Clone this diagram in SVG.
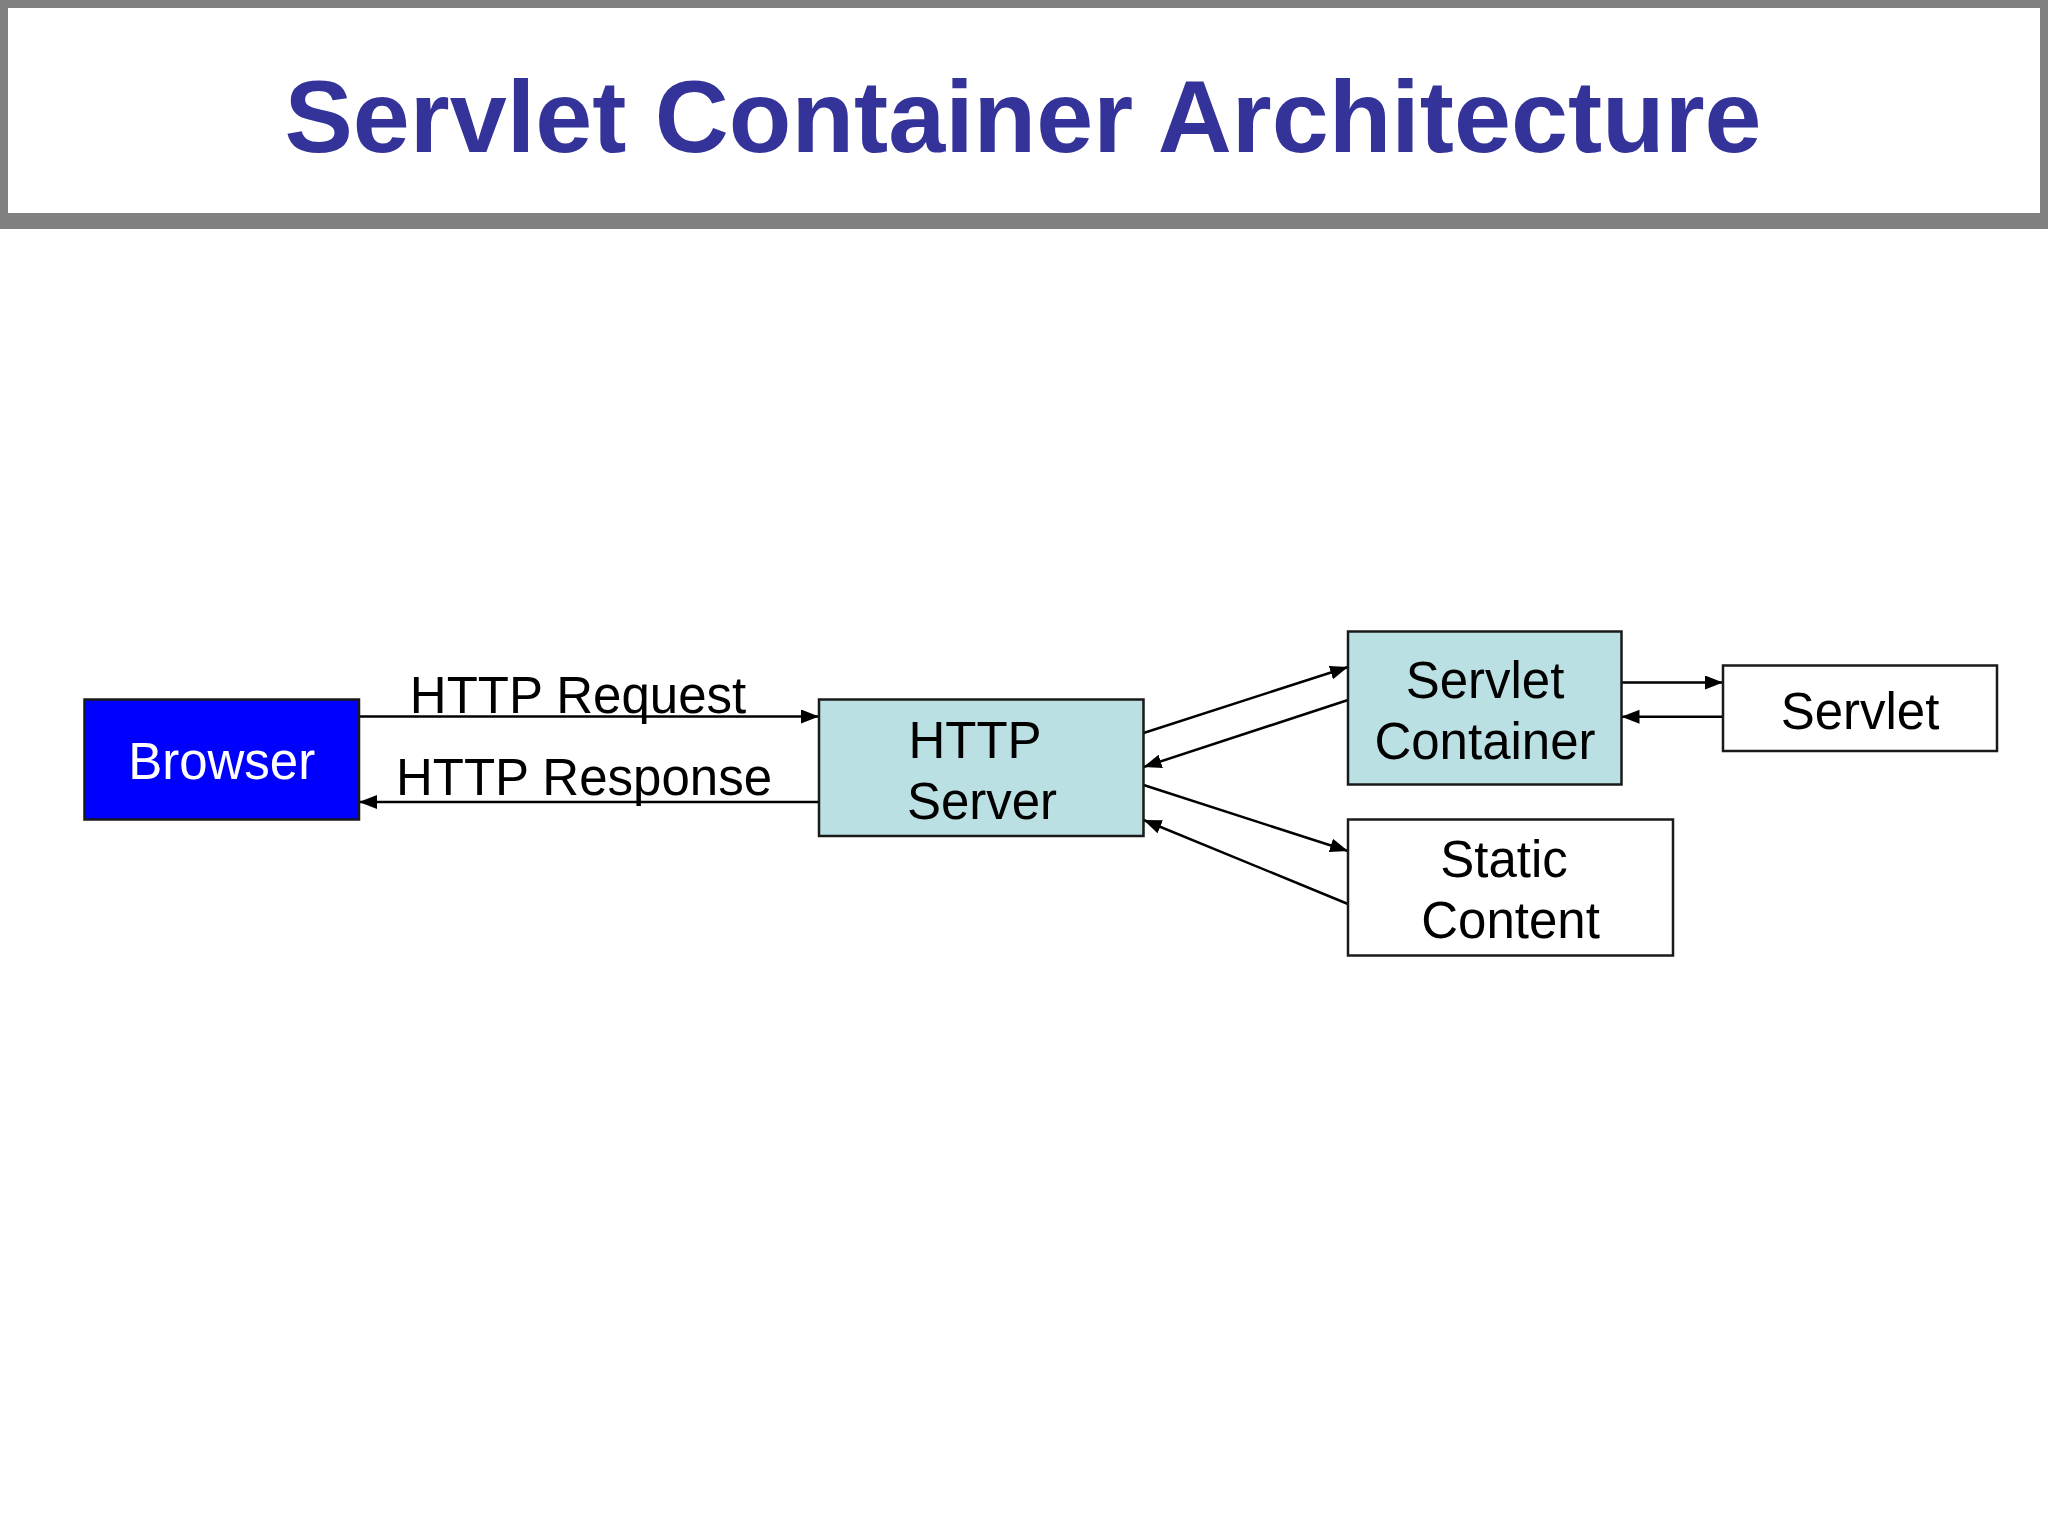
<svg xmlns="http://www.w3.org/2000/svg" width="2048" height="1536" viewBox="0 0 2048 1536">
<style>
.t{font-family:"Liberation Sans",Arial,sans-serif;font-size:51px;text-anchor:middle;fill:#000}
.title{font-family:"Liberation Sans",Arial,sans-serif;font-size:102.5px;font-weight:bold;text-anchor:middle;fill:#333399}
.box{stroke:#1a1a1a;stroke-width:2.5}
.c{stroke:#000;stroke-width:2.5;fill:none;marker-end:url(#ah)}
</style>
<defs>
<marker id="ah" markerUnits="userSpaceOnUse" markerWidth="19" markerHeight="15" refX="18" refY="7" orient="auto">
<path d="M0,0 L18,7 L0,14 z" fill="#000"/>
</marker>
</defs>
<rect x="0" y="0" width="2048" height="1536" fill="#fff"/>
<g id="title">
<rect x="0" y="0" width="2048" height="229" fill="#808080"/>
<rect x="8" y="8" width="2032" height="205" fill="#fff"/>
<text class="title" x="1023" y="152">Servlet Container Architecture</text>
</g>
<g id="connectors">
<line class="c" x1="359" y1="716.5" x2="819" y2="716.5"/>
<line class="c" x1="819" y1="802" x2="359" y2="802"/>
<line class="c" x1="1143.6" y1="733" x2="1348" y2="667"/>
<line class="c" x1="1348" y1="700" x2="1143.6" y2="767"/>
<line class="c" x1="1143.6" y1="785" x2="1348" y2="851"/>
<line class="c" x1="1348" y1="904" x2="1143.6" y2="820"/>
<line class="c" x1="1621.5" y1="682.5" x2="1723" y2="682.5"/>
<line class="c" x1="1723" y1="716.7" x2="1621.5" y2="716.7"/>
<text class="t" x="578" y="713">HTTP Request</text>
<text class="t" x="584" y="795">HTTP Response</text>
</g>
<g id="browser">
<rect class="box" x="84.5" y="699.5" width="274.5" height="120" fill="#0000ff"/>
<text class="t" x="221.7" y="779" style="fill:#fff">Browser</text>
</g>
<g id="http-server">
<rect class="box" x="819" y="699.5" width="324.5" height="136.5" fill="#bbe0e3"/>
<text class="t" x="975" y="757.7">HTTP</text>
<text class="t" x="982" y="819">Server</text>
</g>
<g id="servlet-container">
<rect class="box" x="1348" y="631.5" width="273.5" height="153" fill="#bbe0e3"/>
<text class="t" x="1485" y="698">Servlet</text>
<text class="t" x="1485" y="758.5">Container</text>
</g>
<g id="servlet">
<rect class="box" x="1723" y="665.5" width="274" height="85.5" fill="#fff"/>
<text class="t" x="1860" y="728.5">Servlet</text>
</g>
<g id="static-content">
<rect class="box" x="1348" y="819.5" width="325" height="136" fill="#fff"/>
<text class="t" x="1504" y="877">Static</text>
<text class="t" x="1510.5" y="937.5">Content</text>
</g>
</svg>
